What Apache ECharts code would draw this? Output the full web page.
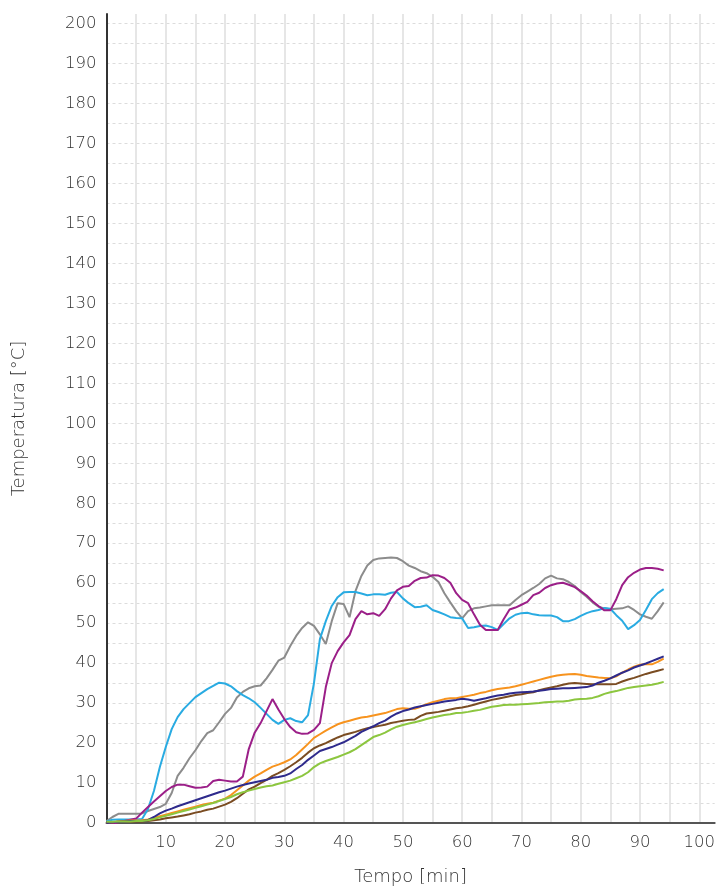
<!DOCTYPE html>
<html>
<head>
<meta charset="utf-8">
<script src="https://cdn.jsdelivr.net/npm/echarts@6/dist/echarts.min.js"></script>
<style>
html,body{margin:0;padding:0;background:#fff;}
#chart{width:718px;height:891px;}
</style>
</head>
<body>
<div id="chart"></div>
<script>
// time in minutes (0..94)
var minutes = [];
for (var i = 0; i <= 94; i++) minutes.push(i);

var xTickLabels = ['10','20','30','40','50','60','70','80','90','100'];
var yTickLabels = ['0','10','20','30','40','50','60','70','80','90','100','110','120','130','140','150','160','170','180','190','200'];

var blue = [0.4,0.8,0.9,0.9,0.9,0.9,1.0,3.5,8,14,19,23.5,26.5,28.5,30,31.5,32.5,33.5,34.3,35.1,34.9,34.2,33,32,31.2,30.2,28.8,27.3,25.8,24.8,25.8,26.2,25.5,25.2,27,35,46,50.5,54.3,56.5,57.7,57.8,57.8,57.4,57,57.2,57.2,57.1,57.6,57.8,56.2,55,54,54.1,54.5,53.3,52.8,52.2,51.5,51.3,51.2,48.8,49,49.3,49.4,49,48.3,49.8,51.2,52.1,52.5,52.6,52.2,52,51.9,51.9,51.5,50.5,50.5,51,51.8,52.5,53,53.3,53.8,53.6,52,50.6,48.5,49.5,50.8,53.3,56,57.5,58.5];

var gray = [0.5,1.5,2.3,2.3,2.3,2.3,2.4,3,3.5,4,4.8,7.5,11.8,13.8,16.2,18.2,20.5,22.5,23.2,25.2,27.3,28.8,31.4,32.8,33.7,34.2,34.4,36.2,38.3,40.6,41.4,44.3,46.8,48.8,50.2,49.3,47.2,44.8,50.5,55,54.8,51.5,58,61.8,64.4,65.8,66.2,66.3,66.4,66.3,65.5,64.4,63.8,63,62.5,61.6,60.3,57.5,55.2,53,51.2,53,53.7,53.9,54.2,54.5,54.5,54.5,54.5,55.8,57,57.9,58.8,59.8,61.2,61.9,61.2,61,60.3,59.3,57.8,56.6,55.2,54.1,53.7,53.5,53.6,53.7,54.2,53.3,52.2,51.6,51.1,53,55.2];

var purple = [-0.5,-0.2,0.2,0.5,0.8,1.1,2.6,4,5.4,6.7,8,9,9.6,9.6,9.2,8.8,8.9,9.1,10.5,10.8,10.6,10.4,10.4,11.6,18.5,22.6,25,28,31,28.4,26,24,22.7,22.3,22.4,23.3,25,34,40,43,45.2,47,51,53,52.2,52.5,51.8,53.5,56.2,58.2,59.1,59.3,60.6,61.3,61.4,62,61.9,61.3,60.1,57.5,55.8,55,52.2,49.6,48.3,48.3,48.3,51,53.4,53.9,54.6,55.3,57,57.6,58.8,59.5,59.9,60.1,59.6,59,58,56.9,55.5,54.3,53.2,53.2,56,59.5,61.5,62.6,63.4,63.8,63.8,63.6,63.2];

var orange = [0,0.2,0.4,0.5,0.6,0.6,0.7,0.9,1.3,1.7,2.1,2.5,2.9,3.3,3.7,4.1,4.5,4.8,5.1,5.6,6.1,7,8.2,9.4,10.6,11.6,12.4,13.3,14.1,14.6,15.2,15.9,17,18.4,19.8,21.3,22.2,23.1,23.9,24.7,25.2,25.6,26,26.4,26.6,26.9,27.2,27.5,28,28.5,28.7,28.6,28.6,29.1,29.7,30.2,30.6,31,31.2,31.2,31.5,31.8,32.1,32.5,32.8,33.2,33.5,33.7,33.9,34.2,34.6,35,35.4,35.8,36.2,36.6,36.9,37.1,37.2,37.3,37.1,36.8,36.6,36.4,36.3,36.2,36.7,37.6,38.4,39.1,39.6,39.7,39.7,40.3,41.1];

var navy = [0,0.2,0.3,0.4,0.5,0.5,0.5,0.7,1.5,2.4,3.1,3.6,4.2,4.7,5.2,5.7,6.2,6.7,7.2,7.7,8.1,8.6,9.1,9.5,9.9,10.2,10.5,10.8,11.3,11.5,11.8,12.4,13.5,14.5,15.8,16.9,18,18.5,19,19.6,20.2,21,21.8,22.8,23.5,24.2,25,25.6,26.6,27.4,28,28.4,28.9,29.2,29.5,29.8,30.1,30.4,30.6,30.8,31.1,30.9,30.6,30.9,31.2,31.6,31.9,32.1,32.4,32.6,32.7,32.8,32.9,33.1,33.3,33.5,33.6,33.7,33.7,33.8,33.9,34,34.4,35.1,35.6,36.2,36.9,37.6,38.2,38.9,39.4,39.9,40.5,41.1,41.7];

var brown = [0.2,0.2,0.3,0.3,0.3,0.4,0.4,0.5,0.7,0.9,1.2,1.4,1.6,1.9,2.2,2.6,2.9,3.3,3.6,4.1,4.6,5.3,6.2,7.3,8.4,9.1,10,10.8,11.8,12.5,13.3,14.2,15.2,16.3,17.6,18.7,19.4,20,20.7,21.4,22,22.4,22.8,23.3,23.7,24,24.3,24.6,25,25.3,25.6,25.8,25.9,26.8,27.4,27.6,27.8,28.1,28.4,28.7,28.9,29.2,29.6,30,30.4,30.8,31.1,31.4,31.7,32,32.2,32.5,32.7,33.2,33.6,33.9,34.2,34.6,34.9,35,34.9,34.8,34.7,34.7,34.7,34.7,34.8,35.4,35.9,36.3,36.8,37.3,37.7,38.1,38.5];

var green = [0.3,0.3,0.4,0.4,0.4,0.5,0.5,0.7,1,1.4,1.8,2.2,2.6,3,3.4,3.8,4.2,4.6,5,5.5,6,6.5,7.2,7.7,8.1,8.5,8.9,9.2,9.4,9.8,10.2,10.6,11.2,11.8,12.7,14,14.9,15.5,16,16.5,17.1,17.7,18.5,19.5,20.5,21.5,22,22.6,23.4,24.1,24.5,24.9,25.2,25.6,26,26.4,26.7,27,27.2,27.5,27.6,27.8,28.1,28.3,28.7,29.1,29.3,29.5,29.6,29.6,29.7,29.8,29.9,30,30.2,30.3,30.4,30.4,30.6,30.9,31,31.1,31.3,31.7,32.3,32.7,33,33.4,33.8,34,34.2,34.4,34.6,34.9,35.3];

var seriesDefs = [
  {name:'S1', data: gray,   color:'#8c8c8c'},
  {name:'S2', data: blue,   color:'#29abe2'},
  {name:'S3', data: purple, color:'#9b1f88'},
  {name:'S4', data: orange, color:'#f7931e'},
  {name:'S5', data: brown,  color:'#7a4c22'},
  {name:'S6', data: navy,   color:'#2e2a8c'},
  {name:'S7', data: green,  color:'#8cc63f'}
];

function pairs(arr){ return minutes.map(function(t,i){ return [t, arr[i]]; }); }

var FONT = '"DejaVu Sans", sans-serif';
var labelFont = {fontFamily:FONT, fontSize:16.5, color:'#333', fontWeight:200};

var chart = echarts.init(document.getElementById('chart'), null, {renderer:'canvas'});
chart.setOption({
  animation:false,
  backgroundColor:'#fff',
  grid:{left:106.5, right:0, top:14, bottom:60.5, containLabel:false},
  xAxis:{
    type:'value', min:0, max:102.6, interval:5,
    name:'Tempo [min]', nameLocation:'middle', nameGap:45,
    nameTextStyle:{fontFamily:FONT, fontSize:18, color:'#333', fontWeight:200},
    axisLine:{show:true, onZero:false, lineStyle:{color:'#555', width:2}},
    axisTick:{show:false},
    axisLabel:Object.assign({margin:11, showMaxLabel:false, formatter:function(v){ var s=String(v); return xTickLabels.indexOf(s)>=0 ? s : ''; }}, labelFont),
    splitLine:{show:true, showMinLine:false, showMaxLine:false, lineStyle:{color:'#dedede', width:1.5, type:'solid'}}
  },
  yAxis:{
    type:'value', min:0, max:202.4, interval:5,
    name:'Temperatura [°C]', nameLocation:'middle', nameGap:78, nameRotate:90,
    nameTextStyle:{fontFamily:FONT, fontSize:18, color:'#333', fontWeight:200},
    axisLine:{show:true, lineStyle:{color:'#333', width:2}},
    axisTick:{show:false},
    axisLabel:Object.assign({margin:10, showMaxLabel:false, formatter:function(v){ var s=String(v); return yTickLabels.indexOf(s)>=0 ? s : ''; }}, labelFont),
    splitLine:{show:true, showMinLine:false, showMaxLine:false, lineStyle:{color:'#dcdcdc', width:1, type:[3,3]}}
  },
  series: seriesDefs.map(function(s){
    return {type:'line', name:s.name, data:pairs(s.data), showSymbol:false, symbol:'none',
      lineStyle:{color:s.color, width:2}, itemStyle:{color:s.color}, smooth:false};
  })
});
</script>
</body>
</html>
